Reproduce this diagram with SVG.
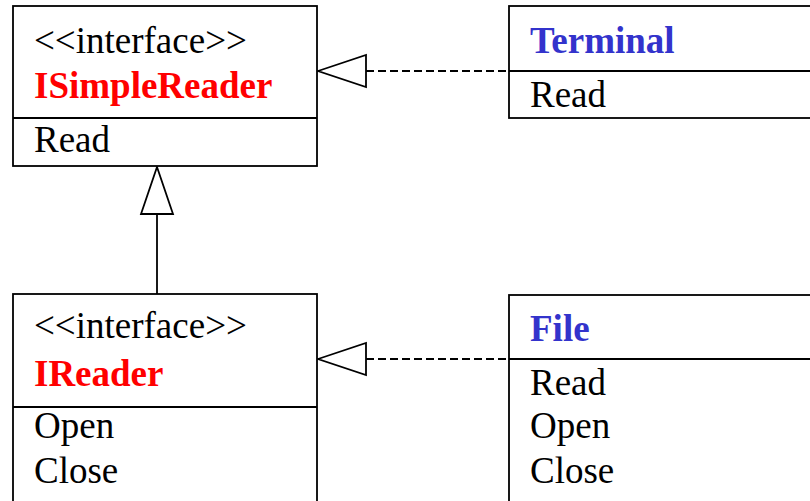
<svg xmlns="http://www.w3.org/2000/svg" width="810" height="501" viewBox="0 0 810 501">
<style>
.box{fill:#fff;stroke:#000;stroke-width:1.8}
.ln{stroke:#000;stroke-width:1.8;fill:none}
.dash{stroke:#000;stroke-width:1.8;fill:none;stroke-dasharray:8 4}
.tri{fill:#fff;stroke:#000;stroke-width:1.8}
text{font-family:"Liberation Serif","Times New Roman",serif;font-size:37px;fill:#000}
.iname{font-weight:bold;fill:#ff0000}
.cname{font-weight:bold;fill:#3333cc}
</style>
<rect width="810" height="501" fill="#fff"/>
<g id="connectors">
<line class="dash" x1="366" y1="71" x2="509" y2="71"/>
<polygon class="tri" points="318,71 366,55 366,87"/>
<line class="dash" x1="366" y1="359" x2="509" y2="359"/>
<polygon class="tri" points="318,359 366,343 366,375"/>
<line class="ln" x1="157" y1="214" x2="157" y2="294"/>
<polygon class="tri" points="157,167 141,214 173,214"/>
</g>
<g id="ISimpleReader">
<rect class="box" x="13" y="6" width="304" height="160"/>
<line class="ln" x1="13" y1="118" x2="317" y2="118"/>
<text x="34" y="53">&lt;&lt;interface&gt;&gt;</text>
<text class="iname" x="34" y="98">ISimpleReader</text>
<text x="34" y="152">Read</text>
</g>
<g id="Terminal">
<rect class="box" x="509" y="6" width="320" height="112"/>
<line class="ln" x1="509" y1="71" x2="829" y2="71"/>
<text class="cname" x="530" y="53">Terminal</text>
<text x="530" y="107">Read</text>
</g>
<g id="IReader">
<rect class="box" x="13" y="294" width="304" height="230"/>
<line class="ln" x1="13" y1="407" x2="317" y2="407"/>
<text x="34" y="338">&lt;&lt;interface&gt;&gt;</text>
<text class="iname" x="34" y="386">IReader</text>
<text x="34" y="438">Open</text>
<text x="34" y="483">Close</text>
</g>
<g id="File">
<rect class="box" x="509" y="295" width="320" height="230"/>
<line class="ln" x1="509" y1="359" x2="829" y2="359"/>
<text class="cname" x="530" y="341">File</text>
<text x="530" y="395">Read</text>
<text x="530" y="438">Open</text>
<text x="530" y="483">Close</text>
</g>
</svg>
